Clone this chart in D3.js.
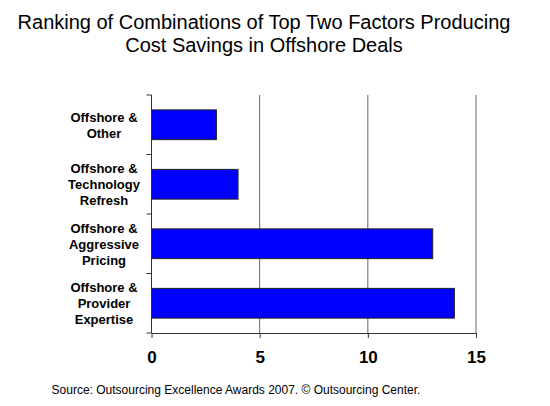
<!DOCTYPE html>
<meta charset="utf-8">
<style>
  body { margin: 0; background: #fff; }
  svg { display: block; font-family: "Liberation Sans", Arial, sans-serif; }
</style>
<body>
<svg width="550" height="406"></svg>
</body>
<script src="https://d3js.org/d3.v7.min.js"></script>
<script>

var categories = [
  ["Offshore &", "Other"],
  ["Offshore &", "Technology", "Refresh"],
  ["Offshore &", "Aggressive", "Pricing"],
  ["Offshore &", "Provider", "Expertise"]
];
var values = [3, 4, 13, 14];
var xTicks = [0, 5, 10, 15];
var titleLines = ["Ranking of Combinations of Top Two Factors Producing", "Cost Savings in Offshore Deals"];
var sourceText = "Source: Outsourcing Excellence Awards 2007. \u00A9 Outsourcing Center.";

var svg = d3.select("svg");

var x = d3.scaleLinear().domain([0, 15]).range([151.5, 476]);
var y = d3.scaleBand()
    .domain(d3.range(categories.length))
    .range([95, 333])
    .paddingInner(0.5)
    .paddingOuter(0.25);

// title
svg.append("g").selectAll("text")
    .data(titleLines)
  .enter().append("text")
    .attr("x", 264)
    .attr("y", (d, i) => 29 + i * 23)
    .attr("text-anchor", "middle")
    .style("font-size", "20px")
    .text(d => d);

// gridlines
svg.append("g").selectAll("line")
    .data(xTicks.slice(1))
  .enter().append("line")
    .attr("x1", d => x(d)).attr("x2", d => x(d))
    .attr("y1", 95).attr("y2", 333)
    .attr("stroke", "#666")
    .attr("stroke-width", 1);

// bars
svg.append("g").selectAll("rect")
    .data(values)
  .enter().append("rect")
    .attr("x", x(0))
    .attr("y", (d, i) => y(i))
    .attr("width", d => x(d) - x(0))
    .attr("height", y.bandwidth())
    .attr("fill", "#0000ff")
    .attr("stroke", "#222")
    .attr("stroke-width", 1);

// left axis: line + tick marks between categories
var yEdges = d3.range(categories.length + 1).map(i => 95 + i * (333 - 95) / categories.length);
var left = svg.append("g");
left.append("line")
    .attr("x1", x(0)).attr("x2", x(0))
    .attr("y1", 95).attr("y2", 333)
    .attr("stroke", "#333");
left.selectAll("line.tk")
    .data(yEdges)
  .enter().append("line")
    .attr("class", "tk")
    .attr("x1", x(0) - 5).attr("x2", x(0))
    .attr("y1", d => d).attr("y2", d => d)
    .attr("stroke", "#333");

// category labels
svg.append("g").selectAll("text")
    .data(categories)
  .enter().append("text")
    .attr("text-anchor", "middle")
    .style("font-size", "13px")
    .style("font-weight", "bold")
    .each(function(lines, i) {
      var cy = y(i) + y.bandwidth() / 2;
      var top = cy - (lines.length - 1) * 16 / 2;
      d3.select(this).selectAll("tspan")
          .data(lines)
        .enter().append("tspan")
          .attr("x", 104)
          .attr("y", (d, j) => top + j * 16 + 5)
          .text(d => d);
    });

// bottom axis
var xAxis = d3.axisBottom(x).tickValues(xTicks).tickSize(5).tickSizeOuter(0);
var gx = svg.append("g")
    .attr("transform", "translate(0,333)")
    .call(xAxis);
gx.select(".domain").attr("stroke", "#333");
gx.selectAll(".tick line").attr("stroke", "#333");
gx.selectAll(".tick text")
    .attr("dy", 0)
    .attr("y", 30)
    .style("font-size", "17px")
    .style("font-weight", "bold")
    .style("font-family", "Liberation Sans, Arial, sans-serif")
    .attr("fill", "#000");

// source
svg.append("text")
    .attr("x", 236)
    .attr("y", 394)
    .attr("text-anchor", "middle")
    .style("font-size", "12px")
    .text(sourceText);

</script>
